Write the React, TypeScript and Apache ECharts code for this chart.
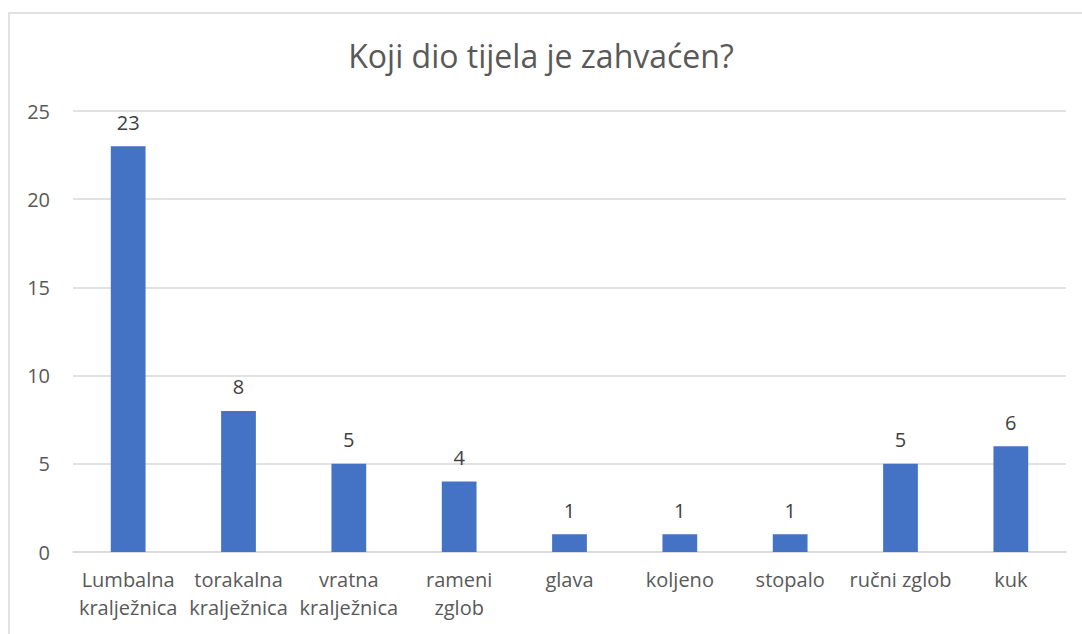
import React, { useEffect, useRef } from "react";
import * as echarts from "echarts";

const categories = [
  "Lumbalna\nkralježnica",
  "torakalna\nkralježnica",
  "vratna\nkralježnica",
  "rameni\nzglob",
  "glava",
  "koljeno",
  "stopalo",
  "ručni zglob",
  "kuk",
];
const values = [23, 8, 5, 4, 1, 1, 1, 5, 6];
const yTicks = { min: 0, max: 25, interval: 5 };
const title = "Koji dio tijela je zahvaćen?";

const FONT = "'Open Sans', sans-serif";

export default function App() {
  const ref = useRef<HTMLDivElement>(null);
  useEffect(() => {
    if (!ref.current) return;
    const chart = echarts.init(ref.current, undefined, { renderer: "svg" });
    chart.setOption({
      animation: false,
      backgroundColor: "#ffffff",
      title: {
        text: title,
        left: "center",
        top: 34,
        textStyle: { fontFamily: FONT, fontSize: 32, fontWeight: "normal", color: "#595959" },
      },
      graphic: [
        {
          type: "rect",
          shape: { x: 9, y: 13, width: 1100, height: 700 },
          style: { fill: "none", stroke: "#d9d9d9", lineWidth: 1.5 },
          silent: true,
        },
      ],
      grid: { left: 73, right: 16, top: 111, bottom: 82, containLabel: false },
      xAxis: {
        type: "category",
        data: categories,
        axisLine: { lineStyle: { color: "#d9d9d9", width: 1.5 } },
        axisTick: { show: false },
        axisLabel: {
          interval: 0,
          margin: 13,
          fontFamily: FONT,
          fontSize: 20,
          lineHeight: 28,
          color: "#595959",
        },
      },
      yAxis: {
        type: "value",
        min: yTicks.min,
        max: yTicks.max,
        interval: yTicks.interval,
        axisLine: { show: false },
        axisTick: { show: false },
        splitLine: { lineStyle: { color: "#d9d9d9", width: 1.5 } },
        axisLabel: { margin: 23, fontFamily: FONT, fontSize: 20, color: "#595959" },
      },
      series: [
        {
          type: "bar",
          data: values,
          barWidth: "31.5%",
          itemStyle: { color: "#4472C4" },
          label: {
            show: true,
            position: "top",
            distance: 14,
            fontFamily: FONT,
            fontSize: 20,
            color: "#404040",
          },
        },
      ],
    });
    return () => chart.dispose();
  }, []);
  return (
    <div
      ref={ref}
      style={{ position: "absolute", left: 0, top: 0, width: 1082, height: 634 }}
    />
  );
}
